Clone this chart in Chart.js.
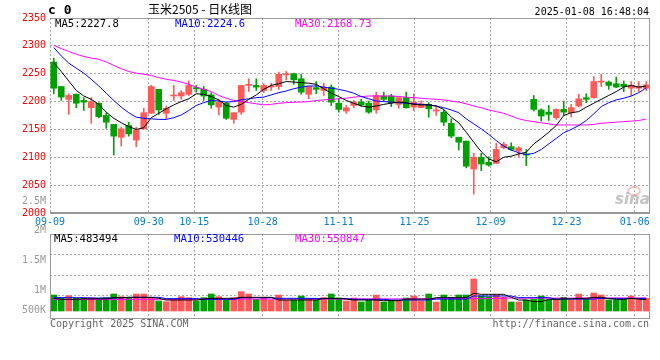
<!DOCTYPE html>
<html><head><meta charset="utf-8">
<script src="https://cdn.jsdelivr.net/npm/chart.js@4/dist/chart.umd.min.js"></script>
<style>
html,body{margin:0;padding:0;background:#fff;overflow:hidden}
#wrap{position:relative;width:660px;height:360px;background:#fff}
canvas{position:absolute;left:0;top:0}
</style></head>
<body><div id="wrap"><canvas id="c1" width="660" height="360"></canvas><canvas id="c2" width="660" height="360"></canvas></div>
<script>
const dates = ['09-09','09-10','09-11','09-12','09-13','09-18','09-19','09-20','09-23','09-24','09-25','09-26','09-27','09-30',
'10-08','10-09','10-10','10-11','10-14','10-15','10-16','10-17','10-18','10-21','10-22','10-23','10-24','10-25','10-28','10-29','10-30','10-31',
'11-01','11-04','11-05','11-06','11-07','11-08','11-11','11-12','11-13','11-14','11-15','11-18','11-19','11-20','11-21','11-22','11-25','11-26','11-27','11-28','11-29',
'12-02','12-03','12-04','12-05','12-06','12-09','12-10','12-11','12-12','12-13','12-16','12-17','12-18','12-19','12-20','12-23','12-24','12-25','12-26','12-27','12-30','12-31',
'01-02','01-03','01-06','01-07','01-08'];
const tickDates = ['09-09','09-30','10-15','10-28','11-11','11-25','12-09','12-23','01-06'];

const opens  = [2271,2227,2204,2213,2202,2189,2197,2175,2159,2136,2157,2131,2151,2179,2222,2179,2210,2210,2213,2224,
                2222,2212,2190,2197,2168,2181,2229,2229,2220,2226,2227,2248,2250,2241,2213,2225,2220,2226,2197,2183,
                2193,2199,2197,2185,2210,2210,2195,2207,2190,2189,2195,2183,2181,2161,2136,2129,2079,2100,2091,2089,
                2117,2119,2111,2105,2204,2185,2181,2171,2186,2180,2192,2207,2207,2235,2235,2232,2231,2224,2224,2224];
const highs  = [2278,2227,2214,2214,2207,2207,2198,2180,2159,2154,2163,2154,2188,2229,2222,2192,2229,2220,2237,2229,
                2227,2216,2204,2198,2180,2229,2241,2241,2232,2233,2253,2254,2251,2249,2227,2236,2233,2230,2205,2193,
                2202,2204,2201,2217,2217,2213,2207,2217,2214,2201,2198,2193,2185,2169,2136,2129,2107,2107,2101,2125,
                2127,2126,2119,2114,2211,2187,2193,2187,2201,2195,2213,2214,2245,2249,2237,2244,2237,2236,2236,2236];
const lows   = [2214,2202,2177,2189,2184,2161,2171,2152,2104,2120,2138,2119,2151,2179,2177,2169,2202,2204,2211,2217,
                2202,2188,2176,2168,2161,2177,2218,2220,2216,2220,2222,2239,2231,2213,2205,2214,2211,2193,2181,2179,
                2189,2192,2179,2179,2201,2191,2188,2188,2184,2189,2172,2175,2157,2135,2113,2081,2034,2076,2084,2089,
                2115,2112,2101,2085,2183,2165,2166,2168,2175,2172,2190,2198,2206,2227,2222,2225,2218,2211,2218,2220];
const closes = [2224,2208,2211,2197,2199,2200,2173,2163,2138,2151,2142,2149,2180,2227,2185,2188,2211,2216,2229,2223,
                2210,2194,2199,2170,2180,2229,2231,2226,2229,2227,2249,2250,2239,2217,2227,2222,2226,2199,2186,2189,
                2199,2194,2181,2211,2204,2198,2207,2189,2199,2196,2187,2185,2163,2138,2127,2084,2100,2088,2086,2114,
                2123,2114,2117,2104,2186,2174,2177,2186,2181,2189,2205,2204,2236,2236,2229,2226,2227,2229,2227,2230];

const ma5  = [2270,2254,2237,2220,2210,2204,2195,2181,2170,2162,2155,2150,2153,2171,2179,2187,2194,2200,2205,2214,
              2213,2209,2203,2193,2190,2195,2204,2212,2222,2229,2232,2236,2235,2234,2233,2231,2223,2215,2209,2202,
              2197,2192,2190,2192,2195,2197,2199,2198,2195,2194,2194,2192,2186,2172,2162,2145,2127,2110,2097,2092,
              2100,2102,2106,2109,2124,2134,2145,2157,2175,2180,2182,2190,2197,2204,2211,2218,2226,2229,2226,2227.8];
const ma10 = [2297,2282,2269,2260,2251,2240,2228,2215,2202,2190,2180,2172,2170,2169,2168,2168,2171,2176,2184,2193,
              2198,2202,2201,2199,2200,2203,2205,2207,2208,2212,2216,2219,2223,2226,2228,2228,2226,2224,2222,2219,
              2215,2209,2205,2201,2200,2199,2198,2197,2196,2195,2194,2192,2189,2185,2180,2169,2160,2151,2141,2130,
              2120,2113,2108,2105,2107,2114,2124,2134,2144,2150,2157,2166,2178,2191,2198,2203,2206,2210,2216,2224.6];
const ma30 = [2301,2295,2290,2285,2281,2278,2276,2271,2265,2259,2254,2251,2249,2247,2243,2240,2238,2235,2231,2226,
              2222,2218,2211,2206,2202,2200,2198,2196,2194,2195,2197,2198,2199,2199,2200,2202,2203,2204,2205,2206,
              2208,2209,2210,2210,2210,2210,2209,2208,2207,2206,2205,2204,2203,2201,2199,2196,2192,2189,2185,2182,
              2179,2174,2169,2166,2164,2162,2160,2158,2158,2158,2158,2158,2159,2161,2162,2163,2164,2165,2166,2168.73];

const volumes = [672000,560000,644000,532000,532000,560000,532000,560000,714000,602000,
                 560000,714000,714000,560000,420000,392000,490000,602000,560000,420000,
                 560000,714000,602000,462000,560000,812000,714000,490000,560000,462000,
                 672000,462000,462000,630000,532000,462000,560000,714000,546000,420000,
                 546000,378000,462000,672000,378000,434000,434000,546000,630000,434000,
                 714000,378000,672000,574000,672000,672000,1345000,630000,602000,672000,
                 574000,378000,378000,462000,490000,630000,462000,462000,574000,462000,
                 714000,532000,756000,672000,462000,462000,490000,630000,532000,532000];
const volMa5  = [532000,490000,490000,490000,510000,510000,510000,510000,560000,560000,
                 574000,574000,574000,574000,530000,462000,462000,462000,462000,462000,
                 500000,532000,532000,532000,532000,574000,574000,574000,574000,574000,
                 462000,462000,462000,462000,462000,462000,532000,532000,532000,500000,
                 462000,462000,462000,462000,434000,434000,434000,500000,500000,500000,
                 500000,560000,560000,560000,560000,560000,742000,700000,700000,700000,
                 700000,574000,462000,462000,392000,392000,490000,490000,510000,510000,
                 532000,532000,574000,574000,520000,490000,490000,532000,500000,483494];
const volMa10 = [560000,560000,560000,560000,560000,546000,546000,546000,546000,546000,
                 574000,574000,574000,574000,574000,520000,520000,520000,520000,520000,
                 490000,490000,490000,490000,490000,560000,560000,560000,560000,560000,
                 532000,532000,532000,532000,532000,520000,520000,520000,520000,520000,
                 490000,490000,490000,490000,490000,462000,462000,462000,462000,462000,
                 462000,500000,500000,500000,500000,500000,630000,630000,630000,630000,
                 630000,630000,560000,560000,560000,560000,560000,500000,500000,500000,
                 500000,500000,500000,530000,530000,530000,530000,530000,530000,530446];
const volMa30 = [480000,480000,480000,480000,480000,480000,480000,480000,480000,480000,
                 490000,490000,490000,490000,490000,490000,490000,490000,490000,490000,
                 500000,500000,500000,500000,500000,500000,500000,500000,500000,500000,
                 505000,505000,505000,505000,505000,505000,505000,505000,505000,505000,
                 510000,510000,510000,510000,510000,510000,510000,510000,510000,510000,
                 520000,520000,520000,520000,520000,520000,520000,520000,520000,520000,
                 540000,540000,540000,540000,540000,540000,540000,540000,540000,540000,
                 545000,545000,545000,545000,545000,545000,545000,545000,545000,550847];
const volLabels = ['2.5M','2M','1.5M','1M','500K'];

const RED = '#ff5a5a', GREEN = '#00a000';
const MONO = '"DejaVu Sans Mono","Liberation Mono",monospace';
const GRID = '#a9a9a9';
const candleColors = closes.map((c, i) => c >= opens[i] ? RED : GREEN);
const tickIdx = tickDates.map(d => dates.indexOf(d));
const last = a => a[a.length - 1];

function lineDs(label, data, color, yId) {
  return {type:'line', label, data, borderColor:color, borderWidth:1, pointRadius:0, tension:0, xAxisID:'x', yAxisID:yId, order:0};
}

const overlay1 = {
  id:'overlay1',
  afterDraw(chart) {
    const ctx = chart.ctx, a = chart.chartArea;
    ctx.save();
    ctx.strokeStyle = '#999'; ctx.lineWidth = 1;
    ctx.beginPath(); ctx.moveTo(a.left, a.top + 0.5); ctx.lineTo(a.right, a.top + 0.5); ctx.stroke();
    ctx.beginPath(); ctx.moveTo(a.right - 0.5, a.top); ctx.lineTo(a.right - 0.5, a.bottom); ctx.stroke();
    ctx.lineWidth = 2;
    ctx.beginPath(); ctx.moveTo(a.left, a.bottom); ctx.lineTo(a.right, a.bottom); ctx.stroke();
    ctx.textBaseline = 'middle'; ctx.textAlign = 'left';
    ctx.font = '10.6px ' + MONO;
    ctx.fillStyle = '#000'; ctx.fillText('MA5:' + last(ma5), 55, 24);
    ctx.fillStyle = '#0000ff'; ctx.fillText('MA10:' + last(ma10), 175, 24);
    ctx.fillStyle = '#ff00ff'; ctx.fillText('MA30:' + last(ma30), 295, 24);
    ctx.fillStyle = '#000'; ctx.font = 'bold 13px ' + MONO; ctx.fillText('c 0', 48, 11);
    ctx.font = '12px "Noto Sans CJK SC"'; ctx.textAlign = 'center';
    ctx.fillText('玉米2505 - 日K线图', 200, 9);
    ctx.font = '10px ' + MONO; ctx.textAlign = 'right';
    ctx.fillText('2025-01-08 16:48:04', 649, 12);
    ctx.fillStyle = '#999'; ctx.fillText(volLabels[0], 46, 201);
    ctx.strokeStyle = 'rgba(240,150,150,0.55)'; ctx.lineWidth = 2;
    ctx.beginPath(); ctx.ellipse(634, 191, 6, 4, 0, 0, Math.PI * 2); ctx.stroke();
    ctx.fillStyle = 'rgba(180,180,180,0.8)'; ctx.font = 'italic bold 15px "DejaVu Sans"'; ctx.textAlign = 'left';
    ctx.fillText('sina', 615, 200);
    ctx.restore();
  }
};

const overlay2 = {
  id:'overlay2',
  afterDraw(chart) {
    const ctx = chart.ctx, a = chart.chartArea;
    ctx.save();
    ctx.strokeStyle = '#999'; ctx.lineWidth = 1;
    ctx.beginPath(); ctx.moveTo(a.left, a.top + 0.5); ctx.lineTo(a.right, a.top + 0.5); ctx.stroke();
    ctx.beginPath(); ctx.moveTo(a.right - 0.5, a.top); ctx.lineTo(a.right - 0.5, a.bottom); ctx.stroke();
    ctx.beginPath(); ctx.moveTo(a.left, a.bottom + 0.5); ctx.lineTo(a.right, a.bottom + 0.5); ctx.stroke();
    ctx.beginPath(); ctx.moveTo(a.left + 0.5, a.top); ctx.lineTo(a.left + 0.5, a.bottom); ctx.stroke();
    ctx.textBaseline = 'middle'; ctx.textAlign = 'left';
    ctx.font = '10.6px ' + MONO;
    ctx.fillStyle = '#000'; ctx.fillText('MA5:' + last(volMa5), 54, 239);
    ctx.fillStyle = '#0000ff'; ctx.fillText('MA10:' + last(volMa10), 174, 239);
    ctx.fillStyle = '#ff00ff'; ctx.fillText('MA30:' + last(volMa30), 295, 239);
    ctx.font = '10px ' + MONO; ctx.fillStyle = '#999'; ctx.textAlign = 'right';
    const ys = [230.5, 260.5, 290.5, 310];
    for (let i = 1; i < volLabels.length; i++) ctx.fillText(volLabels[i], 46, ys[i - 1]);
    ctx.fillStyle = '#666'; ctx.textAlign = 'left';
    ctx.fillText('Copyright 2025 SINA.COM', 50, 324);
    ctx.textAlign = 'right';
    ctx.fillText('http://finance.sina.com.cn', 649, 324);
    ctx.restore();
  }
};

const xgCommon = (showLabels, h) => ({
  type:'linear', position:'bottom', min:0, max:dates.length - 1, offset:false,
  afterBuildTicks: s => { s.ticks = tickIdx.map(v => ({value:v})); },
  ticks:{display:showLabels, callback:v => dates[v], color:'#0a7cc8', font:{family:MONO, size:10}, padding:3, maxRotation:0, autoSkip:false},
  grid:{color:GRID, drawTicks:false, lineWidth:1, offset:false},
  border:{display:false, dash:[2,2]},
  afterFit: s => { s.height = h; }
});

new Chart(document.getElementById('c1'), {
  type:'bar',
  data:{labels:dates, datasets:[
    lineDs('MA5', ma5, '#000000', 'y'),
    lineDs('MA10', ma10, '#0000ff', 'y'),
    lineDs('MA30', ma30, '#ff00ff', 'y'),
    {label:'body', data:opens.map((o, i) => [o, closes[i]]), backgroundColor:candleColors, barThickness:6, minBarLength:1, grouped:false, xAxisID:'x', yAxisID:'y', order:1},
    {label:'wick', data:lows.map((l, i) => [l, highs[i]]), backgroundColor:candleColors, barThickness:1, grouped:false, xAxisID:'x', yAxisID:'y', order:2}
  ]},
  options:{
    responsive:false, animation:false, devicePixelRatio:1,
    layout:{padding:{top:18, right:10, bottom:128, left:0}},
    plugins:{legend:{display:false}, tooltip:{enabled:false}},
    scales:{
      x:{type:'category', display:false, offset:true},
      xg:xgCommon(true, 19),
      y:{type:'linear', position:'left', min:2000, max:2350,
         ticks:{stepSize:50, callback:v => String(v), color:'#ff0000', font:{family:MONO, size:10}, padding:4},
         grid:{color:GRID, drawTicks:false}, border:{display:false, dash:[2,2]},
         afterFit: s => { s.width = 50; }}
    }
  },
  plugins:[overlay1]
});

new Chart(document.getElementById('c2'), {
  type:'bar',
  data:{labels:dates, datasets:[
    lineDs('MA5', volMa5, '#000000', 'yv'),
    lineDs('MA10', volMa10, '#0000ff', 'yv'),
    lineDs('MA30', volMa30, '#ff00ff', 'yv'),
    {label:'vol', data:volumes, backgroundColor:candleColors, barThickness:6, grouped:false, xAxisID:'x', yAxisID:'yv', order:1}
  ]},
  options:{
    responsive:false, animation:false, devicePixelRatio:1,
    layout:{padding:{top:234, right:10, bottom:42, left:0}},
    plugins:{legend:{display:false}, tooltip:{enabled:false}},
    scales:{
      x:{type:'category', display:false, offset:true},
      xg:xgCommon(false, 0),
      g:{type:'linear', position:'left', min:-1.09, max:3,
         afterBuildTicks: s => { s.ticks = [0, 1, 2].map(v => ({value:v})); },
         ticks:{display:false}, grid:{color:GRID, drawTicks:false}, border:{display:false, dash:[2,2]},
         afterFit: s => { s.width = 50; }},
      yv:{type:'linear', display:false, min:-294000, max:3235000}
    }
  },
  plugins:[overlay2]
});
</script>
</body></html>
